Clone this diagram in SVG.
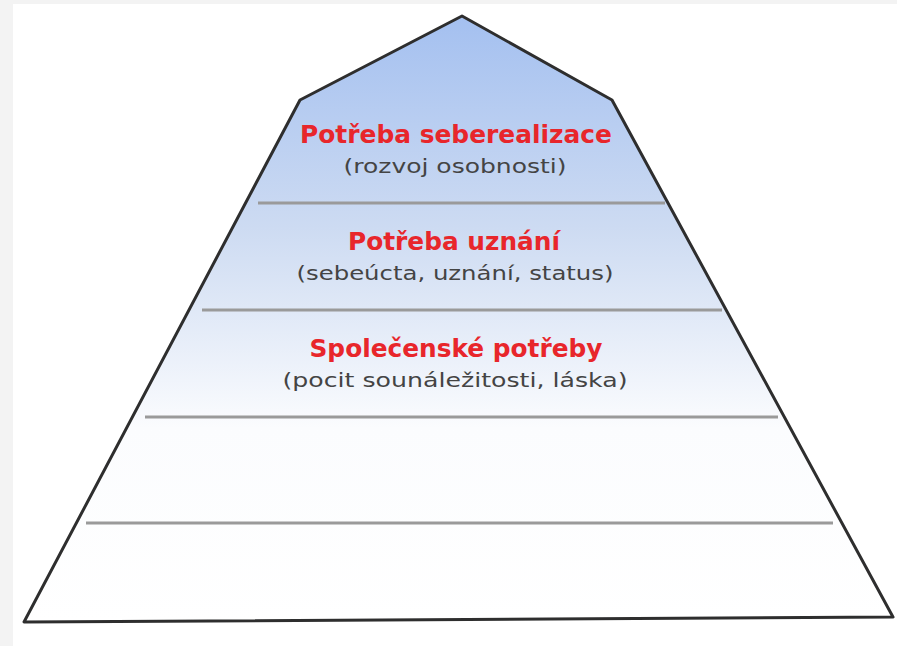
<svg xmlns="http://www.w3.org/2000/svg" width="897" height="646" viewBox="0 0 897 646">
<style>
.t{font-family:"DejaVu Sans",Verdana,sans-serif;font-weight:bold;font-size:25px;fill:#e8262b;text-anchor:middle}
.s{font-family:"DejaVu Sans",Verdana,sans-serif;font-size:19.5px;fill:#444;text-anchor:middle}
.sep{stroke:#9a9a9a;stroke-width:3}
</style>
<defs>
<linearGradient id="g" x1="0" y1="16" x2="0" y2="622" gradientUnits="userSpaceOnUse">
<stop offset="0" stop-color="#a4c0f0"/>
<stop offset="0.35" stop-color="#cddbf2"/>
<stop offset="0.68" stop-color="#fbfcfe"/>
<stop offset="1" stop-color="#ffffff"/>
</linearGradient>
</defs>
<rect width="897" height="646" fill="#f3f3f3"/>
<rect x="13" y="4" width="884" height="642" fill="#ffffff"/>
<g id="pyramid">
<polygon points="462,16 612,100 893,617 24,622 300,100" fill="url(#g)" stroke="#2e2e2e" stroke-width="3" stroke-linejoin="round"/>
</g>
<g id="connectors">
<line class="sep" x1="258" y1="203" x2="665" y2="203"/>
<line class="sep" x1="202" y1="310" x2="722" y2="310"/>
<line class="sep" x1="145" y1="417" x2="778" y2="417"/>
<line class="sep" x1="86" y1="523" x2="833" y2="523"/>
</g>
<g id="level1">
<text class="t" x="456" y="143" textLength="312" lengthAdjust="spacingAndGlyphs">Potřeba seberealizace</text>
<text class="s" x="455" y="173" textLength="223" lengthAdjust="spacingAndGlyphs">(rozvoj osobnosti)</text>
</g>
<g id="level2">
<text class="t" x="454" y="250" textLength="212" lengthAdjust="spacingAndGlyphs">Potřeba uznání</text>
<text class="s" x="455" y="280" textLength="317" lengthAdjust="spacingAndGlyphs">(sebeúcta, uznání, status)</text>
</g>
<g id="level3">
<text class="t" x="456" y="357" textLength="293" lengthAdjust="spacingAndGlyphs">Společenské potřeby</text>
<text class="s" x="455" y="387" textLength="345" lengthAdjust="spacingAndGlyphs">(pocit sounáležitosti, láska)</text>
</g>
</svg>
